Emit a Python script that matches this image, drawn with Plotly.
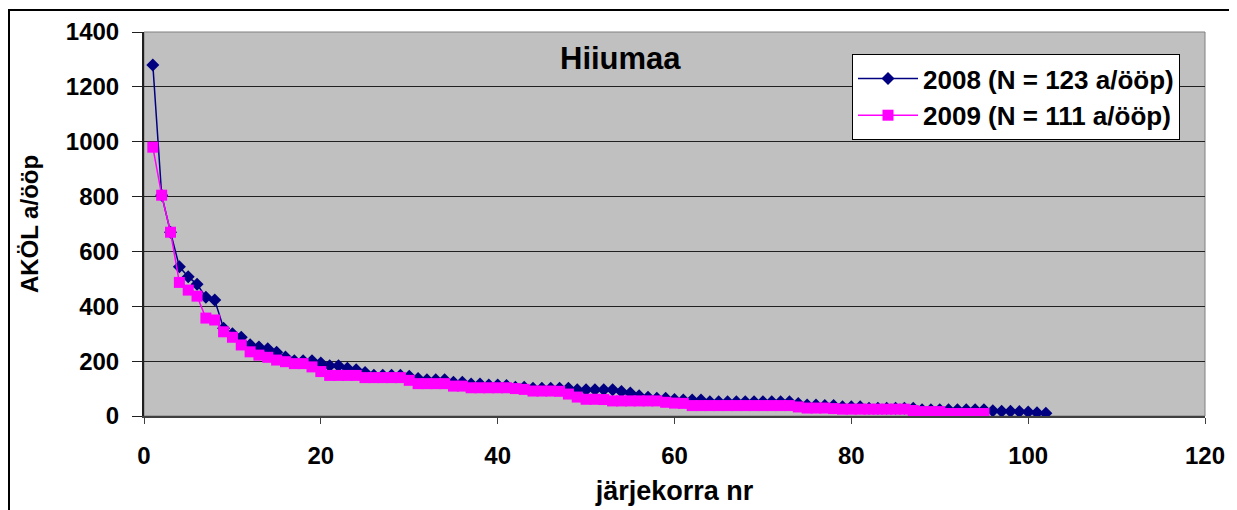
import plotly.graph_objects as go

# ---------------- data ----------------
x_2008 = list(range(1, 103))
y_2008 = [1280, 805, 670, 544, 508, 480, 433, 423, 320, 300,
          287, 260, 252, 245, 232, 215, 201, 201, 201, 193,
          183, 183, 174, 169, 159, 149, 149, 149, 149, 145,
          137, 132, 132, 132, 123, 123, 117, 117, 113, 113,
          111, 105, 105, 101, 101, 101, 101, 101, 96, 96,
          96, 96, 96, 89, 84, 74, 68, 65, 65, 60,
          58, 58, 58, 52, 52, 52, 52, 52, 52, 52,
          52, 52, 52, 46, 40, 40, 38, 38, 34, 34,
          34, 28, 28, 28, 28, 28, 28, 23, 23, 23,
          23, 23, 23, 23, 23, 19, 17, 17, 16, 15,
          12, 10]

x_2009 = list(range(1, 96))
y_2009 = [980, 805, 670, 487, 459, 437, 357, 350, 307, 287,
          259, 234, 222, 214, 204, 198, 191, 191, 179, 162,
          148, 148, 148, 148, 140, 140, 140, 140, 140, 130,
          118, 118, 118, 118, 109, 109, 103, 103, 103, 103,
          103, 100, 97, 91, 91, 91, 90, 80, 69, 61,
          61, 60, 55, 55, 55, 55, 55, 55, 50, 47,
          46, 38, 38, 38, 38, 38, 38, 38, 38, 38,
          38, 38, 38, 33, 29, 29, 29, 27, 25, 25,
          25, 25, 25, 25, 25, 25, 20, 16, 16, 16,
          9, 9, 9, 9, 9]

name_2008 = "2008 (N = 123 a/ööp)"
name_2009 = "2009 (N = 111 a/ööp)"
title_text = "Hiiumaa"
x_title = "järjekorra nr"
y_title = "AKÖL a/ööp"
x_ticks = [0, 20, 40, 60, 80, 100, 120]
y_ticks = [0, 200, 400, 600, 800, 1000, 1200, 1400]

FONT = "Liberation Sans, Arial, sans-serif"

fig = go.Figure()
fig.add_trace(go.Scatter(
    x=x_2008, y=y_2008, name=name_2008, mode="lines+markers",
    line=dict(color="#000080", width=1.5),
    marker=dict(symbol="diamond", size=10, color="#000080", line=dict(width=0)),
    legendgroup="a",
))
fig.add_trace(go.Scatter(
    x=x_2009, y=y_2009, name=name_2009, mode="lines+markers",
    line=dict(color="#FF00FF", width=1.5),
    marker=dict(symbol="square", size=11, color="#FF00FF", line=dict(width=0)),
    legendgroup="b",
))

# the page body adds an 8 px margin; figure coordinates = screen - 8
OFF = 8
W, H = 1237 - OFF, 510 - OFF
L, R, T = 144 - OFF, 32, 32 - OFF
B = H - (416 - OFF)
pw = W - L - R
ph = H - T - B

def px_x(p):
    return (p - OFF - L) / pw

def px_y(p):
    return (H - B - (p - OFF)) / ph

fig.update_layout(
    width=W, height=H,
    margin=dict(l=L, r=R, t=T, b=B, pad=0, autoexpand=False),
    paper_bgcolor="white",
    plot_bgcolor="#C0C0C0",
    font=dict(family=FONT, color="black", size=22, weight="bold"),
    showlegend=True,
    legend=dict(
        x=px_x(852), y=px_y(54), xanchor="left", yanchor="top",
        bgcolor="white", bordercolor="black", borderwidth=1,
        font=dict(family=FONT, size=26, color="black", weight="bold"),
        itemwidth=60, tracegroupgap=0,
    ),
    xaxis=dict(
        range=[0, 120], tickmode="array", tickvals=x_ticks,
        ticktext=[str(v) for v in x_ticks],
        showgrid=False, zeroline=False, automargin=False,
        showline=True, linecolor="#404040", linewidth=2,
        ticks="outside", ticklen=6, tickwidth=1, tickcolor="#404040",
        ticklabelstandoff=11,
        tickfont=dict(family=FONT, size=24, color="black", weight="bold"),
        title=dict(text=x_title, standoff=13,
                   font=dict(family=FONT, size=27, color="black", weight="bold")),
        fixedrange=True,
    ),
    yaxis=dict(
        range=[0, 1400], tickmode="array", tickvals=y_ticks,
        ticktext=[str(v) for v in y_ticks],
        showgrid=True, gridcolor="#202020", gridwidth=1,
        zeroline=False, automargin=False,
        showline=True, linecolor="#202020", linewidth=2,
        ticks="outside", ticklen=10, tickwidth=1, tickcolor="#202020",
        ticklabelstandoff=8,
        tickfont=dict(family=FONT, size=24, color="black", weight="bold"),
        title=dict(text=y_title, standoff=20,
                   font=dict(family=FONT, size=24, color="black", weight="bold")),
        fixedrange=True,
    ),
    annotations=[dict(
        text=title_text, xref="paper", yref="paper",
        x=px_x(620), y=px_y(58), xanchor="center", yanchor="middle",
        showarrow=False,
        font=dict(family=FONT, size=31, color="black", weight="bold"),
    )],
    shapes=[
        dict(type="rect", xref="paper", yref="paper", x0=0, y0=0, x1=1, y1=1,
             line=dict(color="#808080", width=1), layer="below"),
        dict(type="rect", xref="paper", yref="paper",
             x0=px_x(9), x1=px_x(1230), y0=px_y(530), y1=px_y(10),
             line=dict(color="black", width=2)),
    ],
)

fig.write_html("out.html")
